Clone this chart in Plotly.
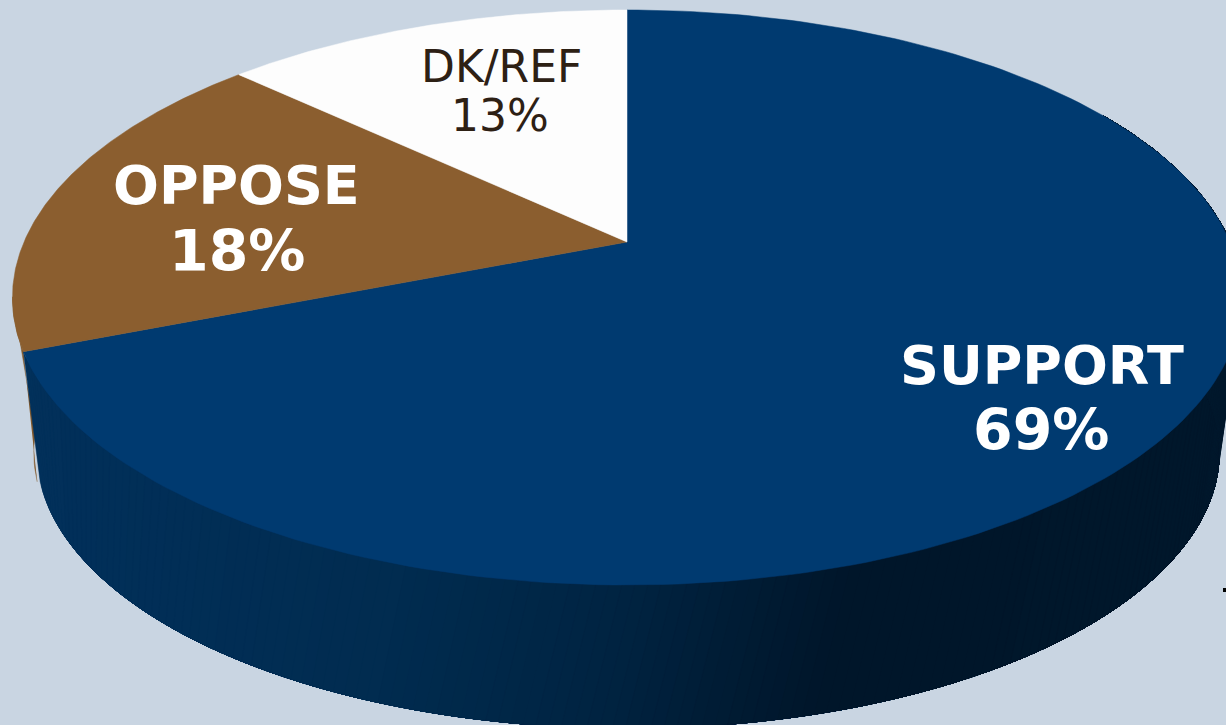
import numpy as np
import plotly.graph_objects as go

categories = ["SUPPORT", "OPPOSE", "DK/REF"]
values = [69, 18, 13]
slice_colors = ["#003a70", "#8b5e2f", "#fdfdfd"]
BG = "#c9d5e2"

# perspective projection of the disc
CX, CY, A, B, K = 627, 242, 603, 276.8, 0.193
LOW_SX, LOW_SY, LOW_DX, LOW_DY = 0.962, 0.96, 1, 157
SEAM_SHIFT = 4.5   # the wall seam leans slightly outwards towards the base
TANGENT = 259      # angle of the disc's left-most point


def project(theta_deg, sx=1.0, sy=1.0, dx=0.0, dy=0.0):
    t = np.radians(theta_deg)
    X, Y = np.sin(t), np.cos(t)
    w = 1 + K * Y
    return CX + dx + sx * A * X / w, CY + dy - sy * B * Y / w


edges = np.cumsum([0] + values) / sum(values) * 360

side_x = [0, 60, 400, 620, 850, 1226]
side_r = [2, 2, 1, 0, 0, 0]
side_g = [50, 48, 44, 36, 22, 24]
side_b = [92, 90, 80, 66, 42, 44]

fig = go.Figure()


def wall(top0, top1, low0, low1, color, low_dx=LOW_DX):
    tt = np.linspace(top0, top1, max(3, int(top1 - top0) + 2))
    tl = np.linspace(low1, low0, max(3, int(low1 - low0) + 2))
    x0, y0 = project(tt)
    x1, y1 = project(tl, LOW_SX, LOW_SY, low_dx, LOW_DY)
    fig.add_trace(go.Scatter(x=list(x0) + list(x1), y=list(y0) + list(y1), mode="lines",
                             fill="toself", fillcolor=color, line=dict(color=color, width=0.5),
                             hoverinfo="skip", showlegend=False))


# side wall: the brown slice behind, then the blue one painted band over band
wall(edges[1], TANGENT, edges[1] + SEAM_SHIFT, TANGENT + 4, "#835a2d", LOW_DX - 3)
for t in np.arange(edges[1], 60, -1.0):
    xm = project(np.array([t]))[0][0]
    c = "rgb(%d,%d,%d)" % tuple(np.interp(xm, side_x, ch) for ch in (side_r, side_g, side_b))
    wall(60, t, 60, t + SEAM_SHIFT * (t - 60) / (edges[1] - 60), c)

# top faces
for cat, v, c, e0, e1 in zip(categories, values, slice_colors, edges[:-1], edges[1:]):
    th = np.linspace(e0, e1, 200)
    x, y = project(th)
    fig.add_trace(go.Scatter(x=[CX] + list(x) + [CX], y=[CY] + list(y) + [CY], mode="lines",
                             fill="toself", fillcolor=c, line=dict(color=c, width=0.5),
                             name=cat, text=f"{cat} {v}%", hoverinfo="text", showlegend=False))


def label(x, y, text, size, color, bold):
    fig.add_annotation(x=x, y=y, text=f"<b>{text}</b>" if bold else text, showarrow=False,
                       xanchor="center", yanchor="middle",
                       font=dict(family="DejaVu Sans, Verdana", size=size, color=color))


label(1042, 365, categories[0], 54, "white", True)
label(1041, 430, f"{values[0]}%", 57, "white", True)
label(236, 185, categories[1], 54, "white", True)
label(237, 251, f"{values[1]}%", 57, "white", True)
label(501, 66, categories[2], 44, "#2d2014", False)
label(500, 115, f"{values[2]}%", 44, "#2d2014", False)

fig.add_shape(type="rect", x0=1223, x1=1226, y0=588, y1=592, fillcolor="black", line_width=0)

fig.update_layout(
    width=1226, height=725, margin=dict(l=0, r=0, t=0, b=0),
    paper_bgcolor=BG, plot_bgcolor=BG, showlegend=False,
    xaxis=dict(range=[0, 1226], visible=False, fixedrange=True),
    yaxis=dict(range=[725, 0], visible=False, fixedrange=True),
)
fig.write_html("out.html", config={"displayModeBar": False},
               post_script="document.body.style.margin='0';document.documentElement.style.overflow='hidden';")
